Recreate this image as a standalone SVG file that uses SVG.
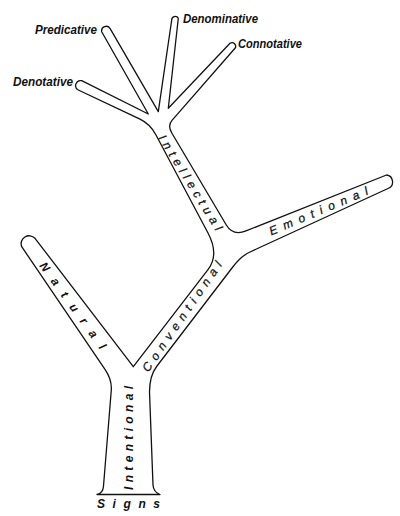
<svg xmlns="http://www.w3.org/2000/svg" width="400" height="516" viewBox="0 0 400 516">
<style>
.outline{fill:none;stroke:#111;stroke-width:1.3;stroke-linejoin:round;stroke-linecap:round}
.tip{font-family:"Liberation Sans",Arial,sans-serif;font-style:italic;font-weight:bold;font-size:12.5px;fill:#111}
.br{font-family:"Liberation Sans",Arial,sans-serif;font-style:italic;font-size:12px;fill:#111;stroke:#111;stroke-width:0.25}
.brb{font-family:"Liberation Sans",Arial,sans-serif;font-style:italic;font-weight:bold;font-size:12px;fill:#111}
</style>
<rect width="400" height="516" fill="#fff"/>
<g id="tree">
<path class="outline" d="M 97,494.5 L 160,494.5 Q 153.5,492 153,485 L 149.5,392 Q 149.5,375.6 157,366 L 232,268 Q 240.7,256.2 250,252 L 388,188.5 A 7,7 0 0 0 386.5,175 L 246,230.9 Q 232.9,236.1 226.3,225 L 171.8,133 Q 167.4,125.6 172,120.4 L 235,48.3 A 3.6,3.6 0 0 0 230,43.3 L 168.3,108.3 L 178.3,18.3 A 3.5,3.5 0 0 0 171.7,20 L 158.3,111.7 L 110,28.3 A 4.6,4.6 0 0 0 101.7,31.7 L 148.3,114 L 81.7,80.7 A 5,5 0 0 0 78.3,90 L 140,119.2 Q 150.1,124 156,135 L 208,233 Q 219.5,254.7 208,269.6 L 133.3,366.7 L 35,238.3 A 8,8 0 0 0 21.7,246.7 L 105,369.3 Q 112,379.6 111.3,390 L 103.5,486 Q 103,493.5 97,494.5 Z"/>
</g>
<g id="tips">
<text class="tip" x="35" y="34" textLength="62" lengthAdjust="spacingAndGlyphs">Predicative</text>
<text class="tip" x="13" y="85.5" textLength="60" lengthAdjust="spacingAndGlyphs">Denotative</text>
<text class="tip" x="183" y="22.5" textLength="75" lengthAdjust="spacingAndGlyphs">Denominative</text>
<text class="tip" x="238" y="47.5" textLength="64" lengthAdjust="spacingAndGlyphs">Connotative</text>
</g>
<g id="intellectual">
<text class="br" transform="translate(190.5,182.5) rotate(58.3)" text-anchor="middle" dy="0.35em" textLength="110" lengthAdjust="spacing">Intellectual</text>
</g>
<g id="emotional">
<text class="br" transform="translate(318.5,211) rotate(-22.8)" text-anchor="middle" dy="0.35em" textLength="106" lengthAdjust="spacing">Emotional</text>
</g>
<g id="conventional">
<text class="br" transform="translate(182,316.5) rotate(-55.5)" text-anchor="middle" dy="0.35em" textLength="131" lengthAdjust="spacing">Conventional</text>
</g>
<g id="natural">
<text class="brb" transform="translate(73,305.5) rotate(54.1)" text-anchor="middle" dy="0.35em" textLength="104" lengthAdjust="spacing">Natural</text>
</g>
<g id="intentional">
<text class="brb" transform="translate(128.5,438) rotate(-90)" text-anchor="middle" dy="0.35em" textLength="104" lengthAdjust="spacing">Intentional</text>
</g>
<g id="signs">
<text class="brb" x="97" y="507.5" textLength="63" lengthAdjust="spacing" font-size="13">Signs</text>
</g>
</svg>
